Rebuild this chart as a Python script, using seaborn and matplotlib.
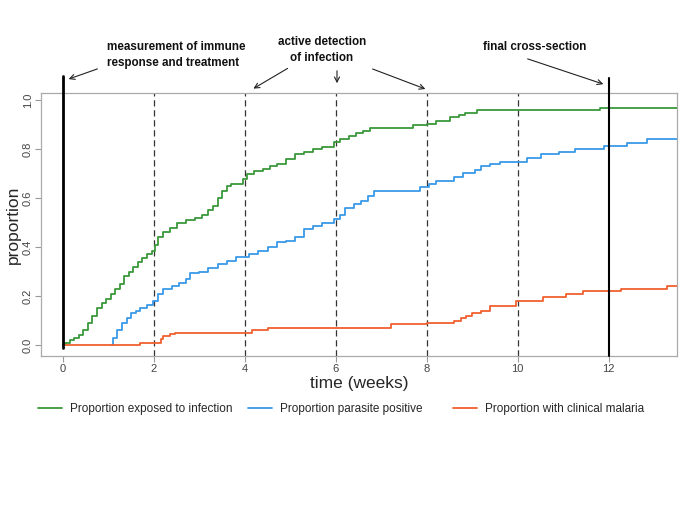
import matplotlib
matplotlib.use("Agg")
import matplotlib.pyplot as plt
import seaborn as sns

# step data (time in weeks, proportion)
green_t = [0.0, 0.05, 0.15, 0.25, 0.35, 0.45, 0.55, 0.65, 0.75, 0.85, 0.95, 1.05, 1.15,
           1.25, 1.35, 1.45, 1.55, 1.65, 1.75, 1.85, 1.95, 2.02, 2.1, 2.2, 2.35, 2.5, 2.7,
           2.9, 3.05, 3.2, 3.3, 3.4, 3.5, 3.6, 3.7, 3.95, 4.05, 4.2, 4.4, 4.55, 4.7, 4.9,
           5.1, 5.3, 5.5, 5.7, 5.95, 6.1, 6.3, 6.45, 6.6, 6.75, 7.7, 8.0, 8.2, 8.5, 8.7,
           8.85, 9.1, 11.8, 13.5]
green_p = [0.0, 0.01, 0.02, 0.03, 0.04, 0.06, 0.09, 0.12, 0.15, 0.17, 0.19, 0.21, 0.23,
           0.25, 0.28, 0.30, 0.32, 0.34, 0.355, 0.37, 0.385, 0.41, 0.44, 0.46, 0.48, 0.50,
           0.51, 0.52, 0.53, 0.55, 0.57, 0.60, 0.63, 0.65, 0.66, 0.68, 0.70, 0.71, 0.72,
           0.73, 0.74, 0.76, 0.78, 0.79, 0.80, 0.81, 0.83, 0.84, 0.855, 0.865, 0.875,
           0.885, 0.90, 0.905, 0.915, 0.93, 0.94, 0.95, 0.96, 0.97, 0.97]

blue_t = [1.07, 1.1, 1.2, 1.3, 1.4, 1.5, 1.6, 1.7, 1.85, 1.98, 2.1, 2.2, 2.4, 2.55, 2.7,
          2.8, 3.0, 3.2, 3.4, 3.6, 3.8, 4.1, 4.3, 4.5, 4.7, 4.9, 5.1, 5.3, 5.5, 5.7, 5.95,
          6.1, 6.2, 6.4, 6.55, 6.7, 6.85, 7.85, 8.05, 8.2, 8.6, 8.8, 9.05, 9.2, 9.4, 9.6,
          10.2, 10.5, 10.9, 11.25, 11.9, 12.4, 12.85, 13.5]
blue_p = [0.0, 0.03, 0.06, 0.09, 0.11, 0.13, 0.14, 0.15, 0.165, 0.18, 0.21, 0.23, 0.24,
          0.255, 0.27, 0.295, 0.30, 0.315, 0.33, 0.345, 0.36, 0.37, 0.385, 0.40, 0.42,
          0.425, 0.44, 0.475, 0.485, 0.50, 0.515, 0.53, 0.56, 0.575, 0.59, 0.61, 0.63,
          0.645, 0.66, 0.67, 0.685, 0.705, 0.715, 0.73, 0.74, 0.75, 0.765, 0.78, 0.79,
          0.80, 0.815, 0.825, 0.84, 0.84]

orange_t = [0.0, 1.69, 2.15, 2.2, 2.35, 2.46, 4.15, 4.5, 7.22, 8.0, 8.6, 8.75, 8.87, 9.0,
            9.2, 9.38, 9.97, 10.56, 11.05, 11.43, 12.28, 13.27, 13.5]
orange_p = [0.0, 0.01, 0.025, 0.035, 0.045, 0.05, 0.06, 0.07, 0.085, 0.09, 0.10, 0.11,
            0.12, 0.13, 0.14, 0.16, 0.18, 0.195, 0.21, 0.22, 0.23, 0.24, 0.24]

series_labels = ["Proportion exposed to infection", "Proportion parasite positive",
                 "Proportion with clinical malaria"]
series_colors = ["#3a983a", "#3a9ae8", "#f0602e"]

dashed_weeks = [2, 4, 6, 8, 10]
x_ticks = [0, 2, 4, 6, 8, 10, 12]
y_ticks = [0.0, 0.2, 0.4, 0.6, 0.8, 1.0]

W, H = 685, 513


def fp(x, y):
    # pixel position -> figure fraction
    return (x / W, 1 - y / H)


sns.set_style("white")
plt.rcParams['font.family'] = ['Liberation Sans', 'DejaVu Sans']

fig = plt.figure(figsize=(6.85, 5.13), dpi=100)
ax = fig.add_axes([41 / W, 1 - 356 / H, 636 / W, 263 / H])

data = [(green_t, green_p), (blue_t, blue_p), (orange_t, orange_p)]
for (t, p), lab, col in zip(data, series_labels, series_colors):
    sns.lineplot(x=t, y=p, ax=ax, color=col, linewidth=1.3, drawstyle='steps-post',
                 label=lab, zorder=3)

for w in dashed_weeks:
    ax.axvline(w, color="#333333", linestyle=(0, (5, 3)), linewidth=0.9, zorder=2)

# solid lines reach above the plot box
ax.plot([0, 0], [-0.012, 1.10], color="black", linewidth=2, clip_on=False, zorder=4)
ax.plot([12, 12], [-0.045, 1.09], color="black", linewidth=1.5, clip_on=False, zorder=4)

ax.set_xlim(-0.48, 13.5)
ax.set_ylim(-0.045, 1.03)
ax.set_xticks(x_ticks)
ax.set_yticks(y_ticks)
ax.set_yticklabels([f"{v:.1f}" for v in y_ticks], rotation=90, va='center')
ax.tick_params(axis='both', direction='out', length=4, width=0.8, color="#999999",
               labelsize=8, labelcolor="#444444", bottom=True, left=True, pad=2)
for s in ax.spines.values():
    s.set_color("#aaaaaa")
    s.set_linewidth(0.9)

ax.set_xlabel("time (weeks)", fontsize=12.5, labelpad=1)
ax.set_ylabel("proportion", fontsize=12.5)
ax.yaxis.set_label_coords(-0.031, 0.5)

# one legend box per entry so the gaps follow the reference
handles, labels = ax.get_legend_handles_labels()
ax.get_legend().remove()
legend_left_px = [38, 248, 453]
for h, lab, x0 in zip(handles, labels, legend_left_px):
    lg = fig.legend([h], [lab], loc='center left', bbox_to_anchor=fp(x0, 409),
                    frameon=False, fontsize=8.5, handlelength=2.0, handletextpad=0.7,
                    borderpad=0, borderaxespad=0)

# annotations above the plot
bold = dict(fontsize=8.4, fontweight='bold', color="#111111")
fig.text(*fp(107, 55), "measurement of immune\nresponse and treatment", ha='left',
         va='center', linespacing=1.45, **bold)
fig.text(*fp(322, 50), "active detection\nof infection", ha='center', va='center',
         linespacing=1.45, **bold)
fig.text(*fp(535, 47), "final cross-section", ha='center', va='center', **bold)

arrows = [((100, 68), (66, 80)), ((290, 67), (251, 90)), ((337, 68), (337, 86)),
          ((370, 68), (428, 90)), ((525, 58), (606, 85))]
for tail, head in arrows:
    fig.add_artist(matplotlib.patches.FancyArrowPatch(
        fp(*tail), fp(*head), transform=fig.transFigure, arrowstyle='->',
        mutation_scale=9, linewidth=0.8, color="#222222"))

fig.savefig("out.png", dpi=100)
